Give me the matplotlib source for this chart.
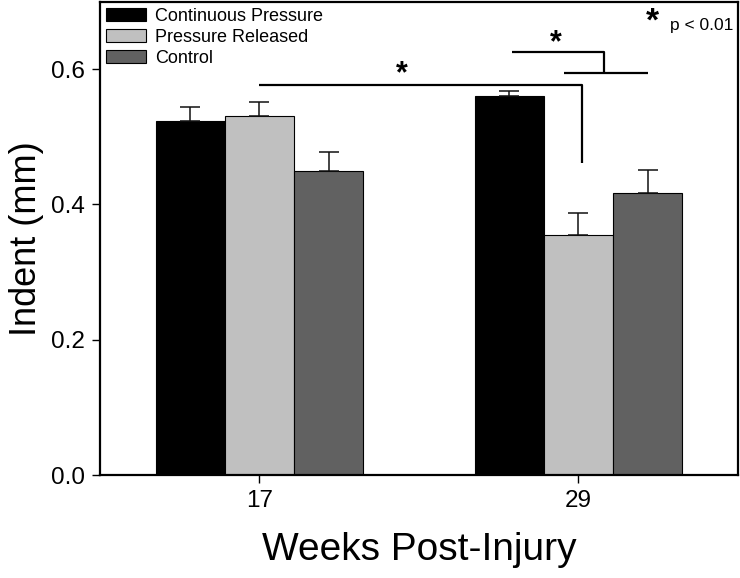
import matplotlib
matplotlib.use("Agg")
import matplotlib.pyplot as plt
from matplotlib.patches import Patch
import numpy as np

plt.rcParams['font.family'] = ['Liberation Sans', 'DejaVu Sans']

weeks = ['17', '29']
series = ['Continuous Pressure', 'Pressure Released', 'Control']
values = {
    'Continuous Pressure': [0.523, 0.560],
    'Pressure Released': [0.530, 0.355],
    'Control': [0.450, 0.417],
}
errors = {
    'Continuous Pressure': [0.021, 0.008],
    'Pressure Released': [0.022, 0.032],
    'Control': [0.028, 0.034],
}
colors = ['#000000', '#c0c0c0', '#616161']

fig = plt.figure(figsize=(7.4, 5.78), dpi=100)
ax = fig.add_axes([0.1351, 0.1782, 0.8622, 0.8192])

x = np.arange(len(weeks))
w = 0.217
for i, (s, c) in enumerate(zip(series, colors)):
    pos = x + (i - 1) * w
    ax.bar(pos, values[s], width=w, color=c, edgecolor='black', linewidth=0.8, zorder=2)
    ax.errorbar(pos, values[s], yerr=[np.zeros(len(weeks)), errors[s]], fmt='none',
                ecolor='#111111', elinewidth=1.1, capsize=7, capthick=1.1, zorder=3)

ax.set_xlim(-0.5, 1.5)
ax.set_ylim(0, 0.7)
ax.set_xticks(x)
ax.set_xticklabels(weeks)
ax.set_yticks([0.0, 0.2, 0.4, 0.6])
ax.set_yticklabels(['0.0', '0.2', '0.4', '0.6'])
ax.tick_params(axis='both', direction='out', length=6, width=1, labelsize=17.5)
ax.tick_params(axis='x', pad=5)
ax.tick_params(axis='y', pad=5)
for sp in ax.spines.values():
    sp.set_linewidth(1.6)

ax.set_xlabel('Weeks Post-Injury', fontsize=28, labelpad=14)
ax.set_ylabel('Indent (mm)', fontsize=26, labelpad=5)

# significance brackets
lk = dict(color='black', lw=1.6, solid_capstyle='butt', zorder=4)
ax.plot([0.0, 1.012, 1.012], [0.5767, 0.5767, 0.4616], **lk)
ax.text(0.445, 0.593, '*', fontsize=22, ha='center', va='center', fontweight='bold')
ax.plot([0.791, 1.079, 1.079], [0.6258, 0.6258, 0.5944], **lk)
ax.plot([0.954, 1.217], [0.5944, 0.5944], **lk)
ax.text(0.928, 0.638, '*', fontsize=22, ha='center', va='center', fontweight='bold')

# p-value note
ax.text(1.485, 0.664, 'p < 0.01', fontsize=12.5, ha='right', va='center')
ax.text(1.233, 0.670, '*', fontsize=24, ha='center', va='center', fontweight='bold')

handles = [Patch(facecolor=c, edgecolor='black', linewidth=0.8) for c in colors]
ax.legend(handles, series, loc='upper left', bbox_to_anchor=(0.0, 1.0), frameon=False,
          fontsize=13, handlelength=2.2, handleheight=0.75, handletextpad=0.5,
          labelspacing=0.22, borderaxespad=0.15, borderpad=0.2)

fig.savefig('out.png', dpi=100)
